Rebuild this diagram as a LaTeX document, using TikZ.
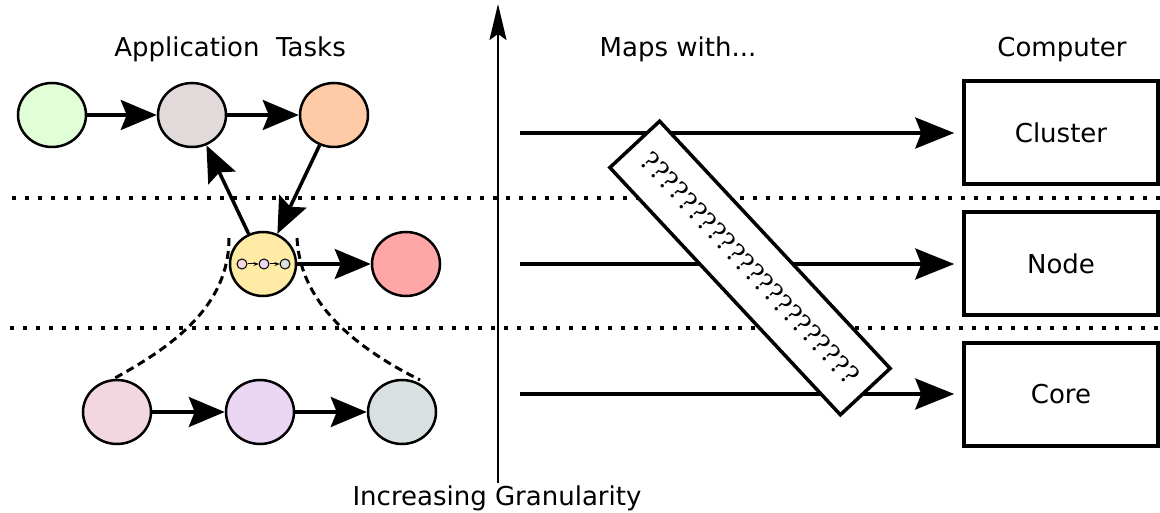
\documentclass[tikz,border=0pt]{standalone}
\usepackage{fontspec}
\setmainfont{DejaVu Sans}
\newfontfamily\qfont{DejaVu Serif}
\usetikzlibrary{arrows.meta,shapes.geometric}

\definecolor{cgreen}{HTML}{E0FFD6}
\definecolor{cgrey}{HTML}{E2DADA}
\definecolor{corange}{HTML}{FFCBA6}
\definecolor{cyellow}{HTML}{FFEBA6}
\definecolor{cred}{HTML}{FFA6A6}
\definecolor{cpink}{HTML}{F2D6E0}
\definecolor{clav}{HTML}{EAD6F2}
\definecolor{cslate}{HTML}{D8E0E2}

\tikzset{
  task/.style={ellipse, draw=black, line width=2.5pt, minimum width=68pt, minimum height=64pt, inner sep=0pt},
  mini/.style={circle, draw=black, line width=1pt, minimum size=10pt, inner sep=0pt},
  flow/.style={line width=3.5pt, -{Stealth[length=36pt, width=30pt, inset=6pt]}},
  tinyflow/.style={line width=1pt, -{Stealth[length=5pt, width=4pt]}},
  mapflow/.style={line width=3.5pt, -{Stealth[length=39pt, width=31pt, inset=6pt]}, shorten >=8pt},
  level/.style={line width=4pt, dash pattern=on 4pt off 9pt},
  zoomline/.style={line width=3pt, dash pattern=on 8pt off 5pt},
  hw/.style={draw=black, line width=3.5pt, minimum width=194pt, minimum height=103pt, inner sep=0pt},
  label/.style={font=\fontsize{26}{31}\selectfont, anchor=base}
}

\begin{document}
\begin{tikzpicture}[x=1pt, y=-1pt]
  \useasboundingbox (0,0) rectangle (1160,513);

  % granularity axis
  \coordinate (axb) at (498,483);
  \coordinate (axt) at (498,4);
  \draw[line width=2.5pt, -{Stealth[length=36pt, width=17pt, inset=6pt]}] (axb) -- (axt);
  \node[label] (gran) at (497,505) {Increasing Granularity};

  % headings
  \node[label] (apptitle) at (230,57) {Application\ \ Tasks};
  \node[label] (mapstitle) at (678,57) {Maps with...};
  \node[label] (comptitle) at (1062,57) {Computer};

  % level separators
  \coordinate (l1a) at (12,198);
  \coordinate (l1b) at (1160,198);
  \coordinate (l2a) at (10,328);
  \coordinate (l2b) at (1160,328);
  \draw[level] (l1a) -- (l1b);
  \draw[level] (l2a) -- (l2b);

  % application tasks
  \node[task, fill=cgreen] (t1) at (52,115) {};
  \node[task, fill=cgrey] (t2) at (192,115) {};
  \node[task, fill=corange] (t3) at (334,115) {};
  \node[task, fill=cyellow, minimum width=66pt] (t4) at (263,264) {};
  \node[task, fill=cred] (t5) at (406,264) {};
  \node[task, fill=cpink] (s1) at (117,412) {};
  \node[task, fill=clav] (s2) at (260,412) {};
  \node[task, fill=cslate] (s3) at (402,412) {};

  % nested tasks inside the composite task
  \node[mini, fill=cpink] (m1) at (242,264) {};
  \node[mini, fill=clav] (m2) at (264,264) {};
  \node[mini, fill=cslate] (m3) at (285,264) {};
  \draw[tinyflow] (m1) -- (m2);
  \draw[tinyflow] (m2) -- (m3);

  % task dependencies
  \draw[flow] (t1) -- (t2);
  \draw[flow] (t2) -- (t3);
  \draw[flow] (t3) -- (t4);
  \draw[flow] (t4) -- (t2);
  \draw[flow] (t4) -- (t5);
  \draw[flow] (s1) -- (s2);
  \draw[flow] (s2) -- (s3);

  % expansion of the composite task
  \coordinate (zl) at (229,238);
  \coordinate (zr) at (297,238);
  \coordinate (zl2) at (115,378);
  \coordinate (zr2) at (420,380);
  \draw[zoomline] (zl) .. controls (229,305) and (175,345) .. (zl2);
  \draw[zoomline] (zr) .. controls (300,300) and (350,345) .. (zr2);

  % computer levels
  \node[hw] (cluster) at (1061,132.5) {};
  \node[hw] (nodebox) at (1061,263.5) {};
  \node[hw] (core) at (1061,394.5) {};
  \node[label, anchor=center] (clustertxt) at (cluster.center) {Cluster};
  \node[label, anchor=center] (nodetxt) at (nodebox.center) {Node};
  \node[label, anchor=center] (coretxt) at (core.center) {Core};

  % mappings
  \coordinate (ms1) at (520,133);
  \coordinate (ms2) at (520,264);
  \coordinate (ms3) at (520,394);
  \draw[mapflow] (ms1) -- (cluster.west |- ms1);
  \draw[mapflow] (ms2) -- (nodebox.west |- ms2);
  \draw[mapflow] (ms3) -- (core.west |- ms3);

  % unknown mapping
  \node[draw=black, fill=white, line width=3.5pt, rotate=-47, minimum width=338pt, minimum height=68pt, inner sep=0pt,
        font=\qfont\fontsize{26}{31}\selectfont] (unknown) at (750,268)
        {??????????????????????};
\end{tikzpicture}
\end{document}
